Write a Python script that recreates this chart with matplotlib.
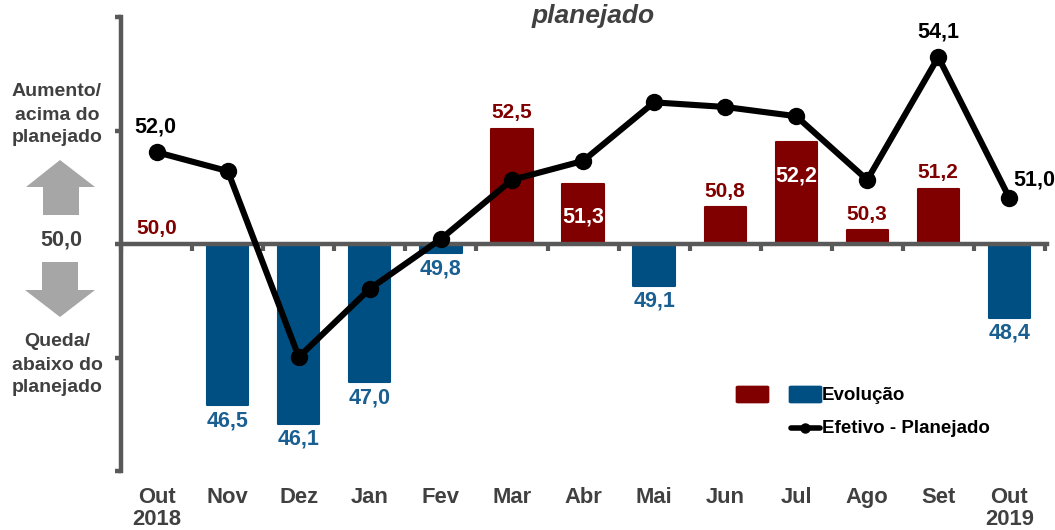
import matplotlib
matplotlib.use('Agg')
import matplotlib.pyplot as plt
from matplotlib.patches import Polygon, FancyBboxPatch
from matplotlib.lines import Line2D
from matplotlib.transforms import blended_transform_factory

plt.rcParams['font.family'] = ['Liberation Sans', 'DejaVu Sans']
plt.rcParams['font.weight'] = 'bold'

W, H = 1055, 530
BASE = 50.0
RED = '#800000'
BLUE = '#004F82'
BLUE_TXT = '#1A5F92'
GREY = '#595959'
TXT = '#404040'

meses = ['Out\n2018', 'Nov', 'Dez', 'Jan', 'Fev', 'Mar', 'Abr', 'Mai', 'Jun', 'Jul', 'Ago', 'Set', 'Out\n2019']
evolucao = [50.0, 46.5, 46.1, 47.0, 49.8, 52.5, 51.3, 49.1, 50.8, 52.2, 50.3, 51.2, 48.4]
efetivo = [51.99, 51.58, 47.55, 49.03, 50.11, 51.39, 51.8, 53.07, 52.97, 52.77, 51.39, 54.05, 51.0]
rotulos_linha = {0: '52,0', 11: '54,1', 12: '51,0'}
dentro_da_barra = [6, 9]
yticks = [45.08, 47.54, 50.0, 52.46, 54.92]


def fx(px):
    return px / W


def fy(py):
    return 1 - py / H


fig = plt.figure(figsize=(W / 100, H / 100), dpi=100)
ax = fig.add_axes([fx(120.5), fy(471), fx(1047 - 120.5), (471 - 17) / H])
ax.patch.set_alpha(0)
ax.set_xlim(-0.51, 12.53)
ax.set_ylim(45.08, 54.92)

x = list(range(len(meses)))
for i, v in zip(x, evolucao):
    if v == BASE:
        continue
    ax.bar(i, v - BASE, bottom=BASE, width=0.58, color=RED if v > BASE else BLUE,
           edgecolor=RED if v > BASE else BLUE, linewidth=1.5, joinstyle='round', zorder=2)

ax.plot(x, efetivo, color='black', lw=4.4, marker='o', ms=11.5, zorder=4, clip_on=False)

# eixos
for s in ['top', 'right']:
    ax.spines[s].set_visible(False)
ax.spines['left'].set_linewidth(3.2)
ax.spines['left'].set_color(GREY)
ax.spines['bottom'].set_position(('data', BASE))
ax.spines['bottom'].set_linewidth(3.2)
ax.spines['bottom'].set_color(GREY)
ax.spines['bottom'].set_zorder(3)
ax.set_yticks(yticks)
ax.set_yticklabels([])
ax.set_xticks([i + 0.5 for i in range(-1, 13)])
ax.set_xticklabels([])
ax.tick_params(axis='y', length=4, width=3.2, color=GREY)
ax.tick_params(axis='x', length=5, width=3, color=GREY)

# rotulos das barras
for i, v in zip(x, evolucao):
    txt = f'{v:.1f}'.replace('.', ',')
    if i in dentro_da_barra:
        ax.annotate(txt, (i, v), xytext=(0, -24), textcoords='offset points', ha='center', va='center',
                    color='white', fontsize=15.5, zorder=5)
    elif v >= BASE:
        ax.annotate(txt, (i, v), xytext=(0, 11.5), textcoords='offset points', ha='center', va='center',
                    color=RED, fontsize=15, zorder=5)
    else:
        ax.annotate(txt, (i, v), xytext=(0, -11), textcoords='offset points', ha='center', va='center',
                    color=BLUE_TXT, fontsize=15.5, zorder=5)

# rotulos da linha
ax.annotate(rotulos_linha[0], (0, efetivo[0]), xytext=(-1, 18), textcoords='offset points', ha='center', va='center',
            color='black', fontsize=15.5, zorder=5)
ax.annotate(rotulos_linha[11], (11, efetivo[11]), xytext=(0, 18), textcoords='offset points', ha='center', va='center',
            color='black', fontsize=15.5, zorder=5)
ax.annotate(rotulos_linha[12], (12, efetivo[12]), xytext=(18, 13), textcoords='offset points', ha='center', va='center',
            color='black', fontsize=15.5, zorder=5, annotation_clip=False)

# meses
trans = blended_transform_factory(ax.transData, fig.transFigure)
for i, m in enumerate(meses):
    ax.text(i, fy(497.5), m.split('\n')[0], transform=trans, ha='center', va='center', color=TXT, fontsize=15.8, clip_on=False)
    if '\n' in m:
        ax.text(i, fy(519.5), m.split('\n')[1], transform=trans, ha='center', va='center', color=TXT, fontsize=15.8, clip_on=False)

# textos da esquerda
fig.text(fx(593.5), fy(15.5), 'planejado', ha='center', va='center', style='italic', fontsize=19, color=TXT)
for py, t in [(92, 'Aumento/'), (115, 'acima do'), (138, 'planejado'),
              (342, 'Queda/'), (365, 'abaixo do'), (387, 'planejado')]:
    fig.text(fx(57), fy(py), t, ha='center', va='center', fontsize=14, color=TXT)
fig.text(fx(61), fy(240), '50,0', ha='center', va='center', fontsize=15.5, color=TXT)

# setas
seta_cima = [(60, 160), (95, 187), (79, 187), (79, 215), (43, 215), (43, 187), (26, 187)]
seta_baixo = [(42, 262), (78, 262), (78, 290), (95, 290), (60, 317), (25, 290), (42, 290)]
for pts in (seta_cima, seta_baixo):
    fig.add_artist(Polygon([(fx(a), fy(b)) for a, b in pts], closed=True, transform=fig.transFigure,
                           facecolor='#A6A6A6', edgecolor='none'))

# legenda
for x0, c in [(736, RED), (789, BLUE)]:
    fig.add_artist(FancyBboxPatch((fx(x0), fy(403)), 33 / W, 17 / H, boxstyle='round,pad=0,rounding_size=0.002',
                                  transform=fig.transFigure, facecolor=c, edgecolor=c, linewidth=0.5))
fig.add_artist(Line2D([fx(791), fx(820)], [fy(428), fy(428)], color='black', lw=4, transform=fig.transFigure,
                      solid_capstyle='round'))
fig.add_artist(Line2D([fx(805.5)], [fy(428)], color='black', marker='o', ms=6.5, transform=fig.transFigure))
fig.text(fx(822), fy(395), 'Evolução', ha='left', va='center', fontsize=13.5, color='black')
fig.text(fx(822), fy(428.5), 'Efetivo - Planejado', ha='left', va='center', fontsize=13.5, color='black')

fig.savefig('out.png', dpi=100)
